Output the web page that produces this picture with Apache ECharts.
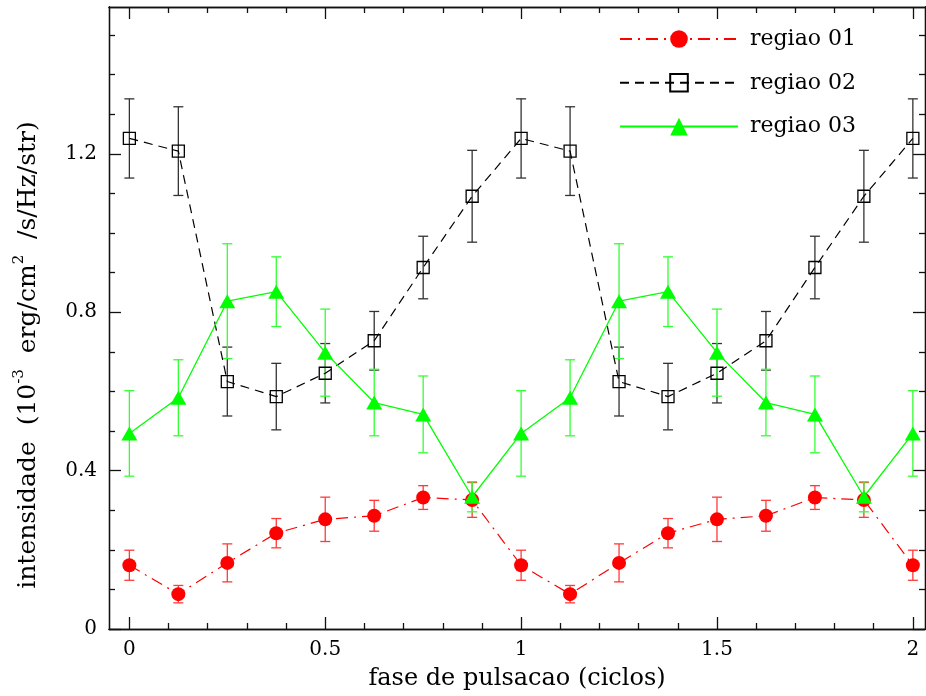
<!DOCTYPE html>
<html><head><meta charset="utf-8">
<script src="https://cdn.jsdelivr.net/npm/echarts@6/dist/echarts.min.js"></script>
<style>html,body{margin:0;padding:0;background:#fff}#c{width:926px;height:696px}</style>
</head><body><div id="c"></div>
<script>
// ---- data ----
const phase  = [0, 0.125, 0.25, 0.375, 0.5, 0.625, 0.75, 0.875, 1, 1.125, 1.25, 1.375, 1.5, 1.625, 1.75, 1.875, 2];
const reg01  = [0.161, 0.088, 0.167, 0.242, 0.277, 0.286, 0.332, 0.326, 0.161, 0.088, 0.167, 0.242, 0.277, 0.286, 0.332, 0.326, 0.161];
const err01  = [0.038, 0.022, 0.048, 0.037, 0.056, 0.039, 0.030, 0.044, 0.038, 0.022, 0.048, 0.037, 0.056, 0.039, 0.030, 0.044, 0.038];
const reg02  = [1.239, 1.207, 0.625, 0.587, 0.646, 0.728, 0.913, 1.093, 1.239, 1.207, 0.625, 0.587, 0.646, 0.728, 0.913, 1.093, 1.239];
const err02  = [0.100, 0.112, 0.087, 0.084, 0.075, 0.074, 0.079, 0.116, 0.100, 0.112, 0.087, 0.084, 0.075, 0.074, 0.079, 0.116, 0.100];
const reg03  = [0.494, 0.584, 0.828, 0.852, 0.698, 0.572, 0.542, 0.334, 0.494, 0.584, 0.828, 0.852, 0.698, 0.572, 0.542, 0.334, 0.494];
const err03  = [0.108, 0.096, 0.145, 0.088, 0.110, 0.084, 0.097, 0.038, 0.108, 0.096, 0.145, 0.088, 0.110, 0.084, 0.097, 0.038, 0.108];
const names  = ['regiao 01', 'regiao 02', 'regiao 03'];
const xTicks = [0, 0.5, 1, 1.5, 2];
const xMinor = [0.1, 0.2, 0.3, 0.4, 0.6, 0.7, 0.8, 0.9, 1.1, 1.2, 1.3, 1.4, 1.6, 1.7, 1.8, 1.9];
const yTicks = [0, 0.4, 0.8, 1.2];
const yMinor = [0.1, 0.2, 0.3, 0.5, 0.6, 0.7, 0.9, 1.0, 1.1, 1.3, 1.4, 1.5];

// ---- styling ----
const FONT = 'DejaVu Serif';
const XMIN = -0.052, XMAX = 2.031, YMIN = 0, YMAX = 1.571;
const AX = '#111';

function xAxisDef(pos, ticks, len, withLabel) {
  const a = {
    type: 'value', min: XMIN, max: XMAX, position: pos,
    axisLine: { show: true, onZero: false, lineStyle: { color: AX, width: 1.3 } },
    axisTick: { show: true, inside: true, length: len, customValues: ticks, lineStyle: { color: AX, width: 1.3 } },
    axisLabel: { show: false },
    splitLine: { show: false }
  };
  if (withLabel) {
    a.axisLabel = { show: true, customValues: ticks, margin: 11, color: '#000', fontFamily: FONT, fontSize: 20 };
    a.name = 'fase de pulsacao (ciclos)';
    a.nameLocation = 'middle';
    a.nameGap = 38;
    a.nameTextStyle = { color: '#000', fontFamily: FONT, fontSize: 24 };
  }
  return a;
}
function yAxisDef(pos, ticks, len, withLabel) {
  const a = {
    type: 'value', min: YMIN, max: YMAX, position: pos,
    axisLine: { show: true, onZero: false, lineStyle: { color: AX, width: 1.3 } },
    axisTick: { show: true, inside: true, length: len, customValues: ticks, lineStyle: { color: AX, width: 1.3 } },
    axisLabel: { show: false },
    splitLine: { show: false }
  };
  if (withLabel) {
    a.axisLabel = { show: true, customValues: ticks, margin: 12, color: '#000', fontFamily: FONT, fontSize: 20 };
    a.name = 'intensidade  (10{sup|-3}  erg/cm{sup|2}  /s/Hz/str)';
    a.nameLocation = 'middle';
    a.nameGap = 65;
    a.nameTextStyle = {
      color: '#000', fontFamily: FONT, fontSize: 25, lineHeight: 32, padding: [0, 74, 0, 0],
      rich: { sup: { fontSize: 15, fontFamily: FONT, color: '#000', verticalAlign: 'top', lineHeight: 32 } }
    };
  }
  return a;
}

function errRender(color) {
  return function (params, api) {
    const x = api.value(0), lo = api.value(1), hi = api.value(2);
    const p1 = api.coord([x, hi]), p2 = api.coord([x, lo]);
    const cap = 5;
    const style = { stroke: color, lineWidth: 1.3 };
    return {
      type: 'group', children: [
        { type: 'line', shape: { x1: p1[0], y1: p1[1], x2: p2[0], y2: p2[1] }, style: style },
        { type: 'line', shape: { x1: p1[0] - cap, y1: p1[1], x2: p1[0] + cap, y2: p1[1] }, style: style },
        { type: 'line', shape: { x1: p2[0] - cap, y1: p2[1], x2: p2[0] + cap, y2: p2[1] }, style: style }
      ]
    };
  };
}
function errData(vals, errs) { return phase.map((p, i) => [p, vals[i] - errs[i], vals[i] + errs[i]]); }
function lineData(vals) { return phase.map((p, i) => [p, vals[i]]); }

const chart = echarts.init(document.getElementById('c'), null, { renderer: 'canvas' });
chart.setOption({
  animation: false,
  backgroundColor: '#fff',
  grid: { left: 109, right: 1, top: 7, bottom: 67, containLabel: false },
  xAxis: [
    xAxisDef('bottom', xTicks, 12, true),
    xAxisDef('bottom', xMinor, 6, false),
    xAxisDef('top', xTicks, 12, false),
    xAxisDef('top', xMinor, 6, false)
  ],
  yAxis: [
    yAxisDef('left', yTicks, 12, true),
    yAxisDef('left', yMinor, 6, false),
    yAxisDef('right', yTicks, 12, false),
    yAxisDef('right', yMinor, 6, false)
  ],
  legend: {
    orient: 'vertical', left: 619, top: 28, padding: 0,
    itemWidth: 118, itemHeight: 22, itemGap: 21.8,
    data: names,
    textStyle: { color: '#000', fontFamily: FONT, fontSize: 22, padding: [0, 0, 0, 7] }
  },
  series: [
    { type: 'custom', name: 'err01', renderItem: errRender('#ff3a3a'), data: errData(reg01, err01), encode: { x: 0, y: [1, 2] }, silent: true },
    { type: 'line', name: names[0], data: lineData(reg01), symbol: 'circle', symbolSize: 14,
      itemStyle: { color: '#ff0000' }, lineStyle: { color: '#ff0000', width: 1.2, type: [12, 6, 2, 6] } },
    { type: 'custom', name: 'err02', renderItem: errRender('#333333'), data: errData(reg02, err02), encode: { x: 0, y: [1, 2] }, silent: true },
    { type: 'line', name: names[1], data: lineData(reg02), symbol: 'rect', symbolSize: 12,
      itemStyle: { color: 'rgba(255,255,255,0)', borderColor: '#000', borderWidth: 1.3 },
      lineStyle: { color: '#000', width: 1.2, type: [9, 6] } },
    { type: 'custom', name: 'err03', renderItem: errRender('#33ff33'), data: errData(reg03, err03), encode: { x: 0, y: [1, 2] }, silent: true },
    { type: 'line', name: names[2], data: lineData(reg03), symbol: 'triangle', symbolSize: [16, 14],
      itemStyle: { color: '#00ff00' }, lineStyle: { color: '#00ff00', width: 1.3 } }
  ]
});
</script></body></html>
